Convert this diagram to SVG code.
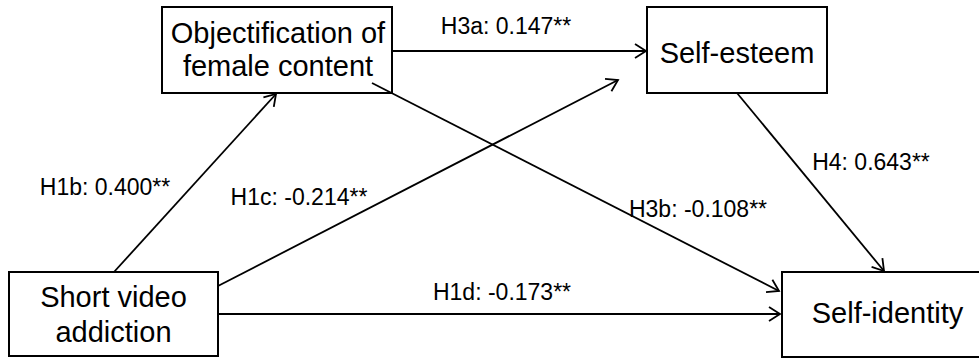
<svg xmlns="http://www.w3.org/2000/svg" width="979" height="358" viewBox="0 0 979 358">
  <style>
    .box { fill: #ffffff; stroke: #000000; stroke-width: 2; }
    .node-text { font-family: "Liberation Sans", Arial, sans-serif; font-size: 29px; fill: #000000; text-anchor: middle; }
    .edge { fill: none; stroke: #000000; stroke-width: 1.8; marker-end: url(#arrow); }
    .label { font-family: "Liberation Sans", Arial, sans-serif; font-size: 23px; fill: #000000; text-anchor: middle; }
  </style>
  <defs>
    <marker id="arrow" markerUnits="userSpaceOnUse" markerWidth="16" markerHeight="18" viewBox="-13 -9 16 18" refX="0" refY="0" orient="auto">
      <path d="M-11,-7 L0,0 L-11,7" fill="none" stroke="#000000" stroke-width="1.8" stroke-linejoin="miter"/>
    </marker>
  </defs>
  <rect width="979" height="358" fill="#ffffff"/>

  <g id="node-objectification">
    <rect class="box" x="162" y="7" width="230" height="86"/>
    <text class="node-text" x="278" y="43">Objectification of</text>
    <text class="node-text" x="278" y="76">female content</text>
  </g>

  <g id="node-self-esteem">
    <rect class="box" x="647" y="7" width="180" height="86"/>
    <text class="node-text" x="737" y="63">Self-esteem</text>
  </g>

  <g id="node-short-video">
    <rect class="box" x="9" y="272" width="209" height="84"/>
    <text class="node-text" x="113.5" y="307">Short video</text>
    <text class="node-text" x="113.5" y="342">addiction</text>
  </g>

  <g id="node-self-identity">
    <rect class="box" x="782" y="272" width="212" height="85"/>
    <text class="node-text" x="887.5" y="323">Self-identity</text>
  </g>

  <g id="connectors">
    <line class="edge" x1="114" y1="272" x2="276" y2="94"/>
    <line class="edge" x1="218" y1="286" x2="618" y2="80"/>
    <line class="edge" x1="218" y1="314" x2="780" y2="314"/>
    <line class="edge" x1="392" y1="51" x2="646" y2="51"/>
    <line class="edge" x1="372" y1="83" x2="779" y2="291"/>
    <line class="edge" x1="737" y1="93" x2="884" y2="271"/>
  </g>

  <g id="labels">
    <text class="label" x="506" y="34">H3a: 0.147**</text>
    <text class="label" x="105" y="195">H1b: 0.400**</text>
    <text class="label" x="299" y="205">H1c: -0.214**</text>
    <text class="label" x="698" y="217">H3b: -0.108**</text>
    <text class="label" x="871" y="170">H4: 0.643**</text>
    <text class="label" x="502" y="300">H1d: -0.173**</text>
  </g>
</svg>
